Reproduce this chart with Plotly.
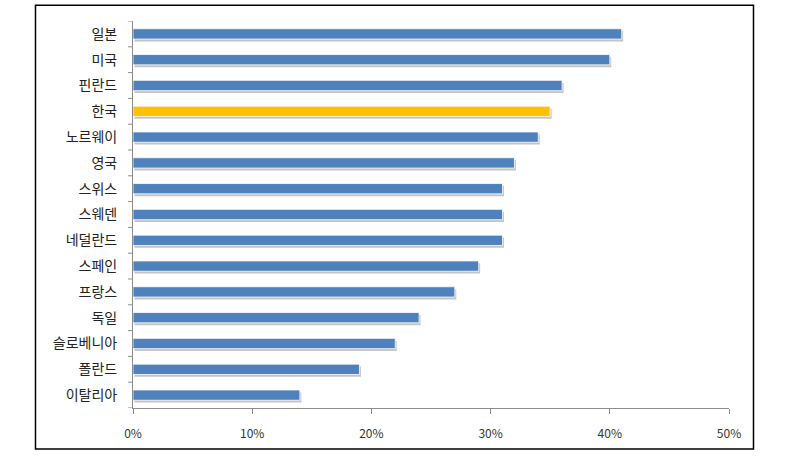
import plotly.graph_objects as go

countries = ["일본", "미국", "핀란드", "한국", "노르웨이", "영국", "스위스", "스웨덴",
             "네덜란드", "스페인", "프랑스", "독일", "슬로베니아", "폴란드", "이탈리아"]
values = [41, 40, 36, 35, 34, 32, 31, 31, 31, 29, 27, 24, 22, 19, 14]
highlight = "한국"
x_ticks = [0, 10, 20, 30, 40, 50]
x_labels = ["0%", "10%", "20%", "30%", "40%", "50%"]

BLUE = "#4F81BD"
GOLD = "#FFC000"
colors = [GOLD if c == highlight else BLUE for c in countries]
pos = list(range(len(countries)))

fig = go.Figure()
# soft drop shadow under each bar, nudged a little right and down
fig.add_trace(go.Bar(x=values, y=pos, orientation="h", width=0.4, offset=-0.2 + 0.09,
                     base=0.12, marker=dict(color="#C4C4C4", line=dict(width=0)),
                     hoverinfo="skip", showlegend=False))
fig.add_trace(go.Bar(x=values, y=pos, orientation="h", width=0.4, offset=-0.2,
                     marker=dict(color=colors, line=dict(color="white", width=0.8)),
                     showlegend=False))

fig.update_layout(
    width=797, height=469,
    margin=dict(l=133, r=68, t=21, b=61),
    paper_bgcolor="white", plot_bgcolor="white",
    font=dict(family="Noto Sans CJK KR, Malgun Gothic, sans-serif", color="#222222"),
    barmode="overlay",
    xaxis=dict(range=[0, 50], tickvals=x_ticks, ticktext=x_labels,
               showgrid=False, zeroline=False, showline=True, linecolor="#8C8C8C",
               linewidth=1, ticks="outside", ticklen=5, tickcolor="#8C8C8C",
               ticklabelstandoff=10, tickfont=dict(size=12, color="#333333")),
    yaxis=dict(range=[len(countries) - 0.5, -0.5], tickvals=pos, ticktext=countries,
               showgrid=False, zeroline=False, showline=True, linecolor="#8C8C8C",
               linewidth=1, ticks="", ticklabelstandoff=12,
               tickfont=dict(size=14, color="#222222")),
    shapes=[
        dict(type="rect", xref="paper", yref="paper",
             x0=-0.1636, x1=1.0411, y0=-0.106, y1=1.0406,
             line=dict(color="black", width=1.5), fillcolor="rgba(0,0,0,0)")
    ],
)

# tick marks on the category boundaries of the y axis
for i in range(len(countries) + 1):
    fig.add_shape(type="line", xref="paper", yref="y",
                  x0=-0.0085, x1=0, y0=i - 0.5, y1=i - 0.5,
                  line=dict(color="#8C8C8C", width=1))

# drop the browser's default page margin so the figure sits at the window origin
fig.write_html("out.html", config={"displayModeBar": False},
               post_script="document.body.style.margin='0';")
